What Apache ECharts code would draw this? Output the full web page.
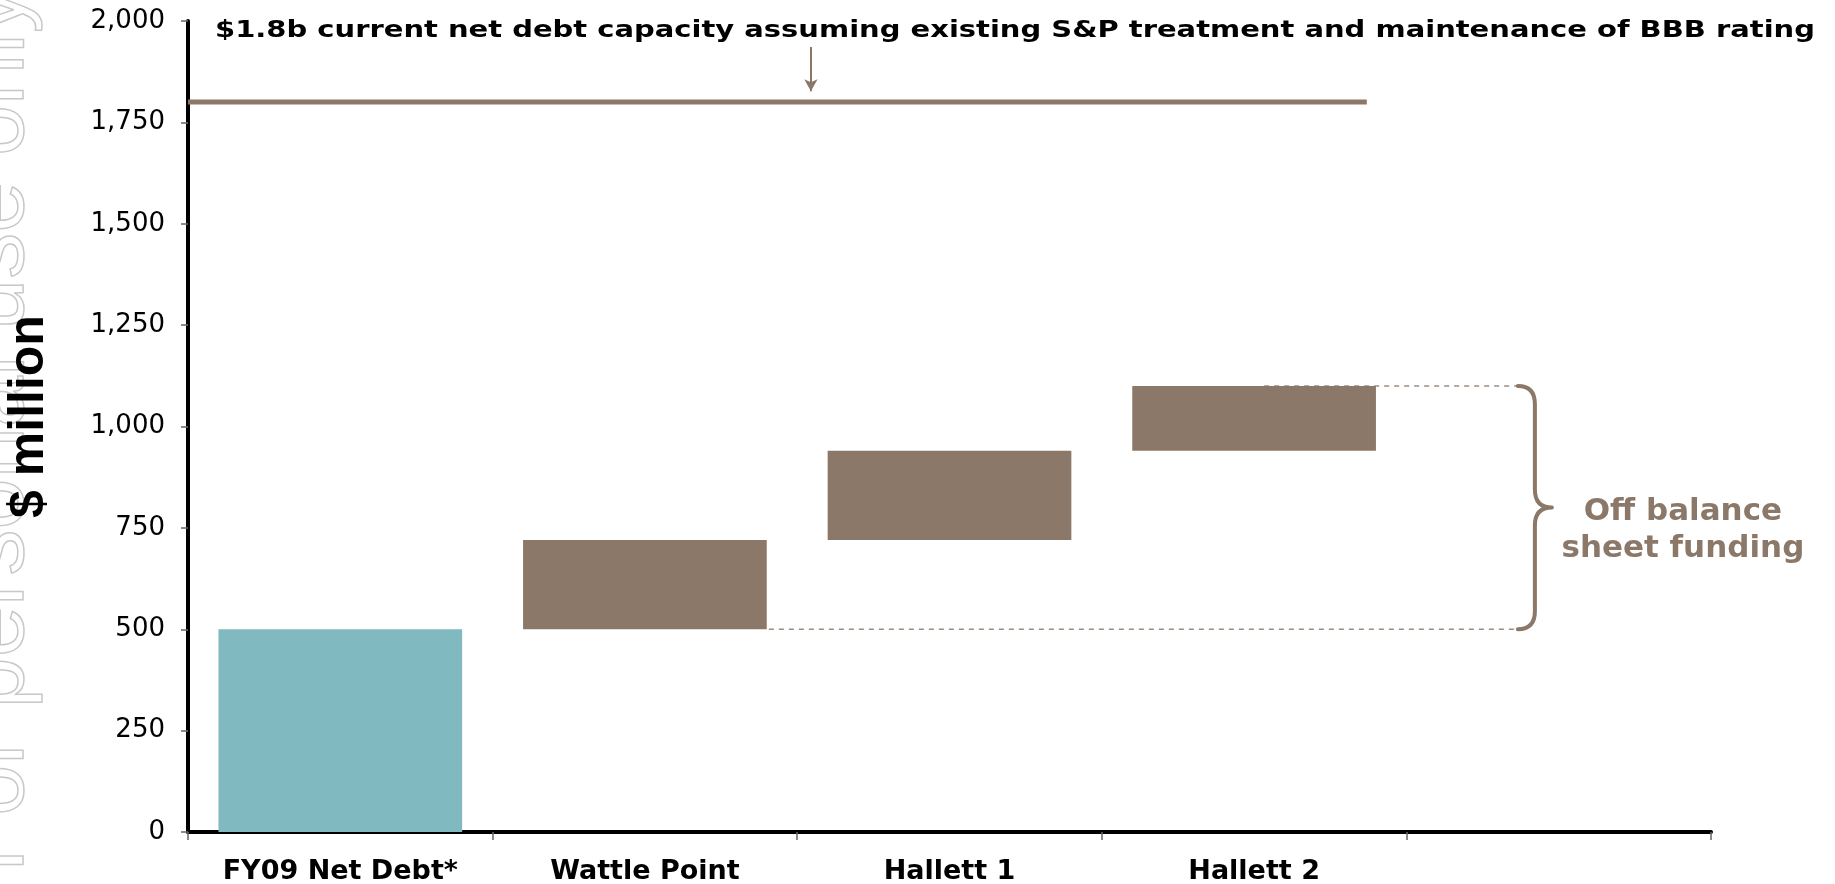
<!DOCTYPE html>
<html>
<head>
<meta charset="utf-8">
<title>Net debt capacity</title>
<script src="https://cdn.jsdelivr.net/npm/echarts@6/dist/echarts.min.js"></script>
<style>
  html, body { margin: 0; padding: 0; background: #fff; }
  #chart { width: 1835px; height: 884px; }
</style>
</head>
<body>
<div id="chart"></div>
<script>
// Waterfall categories (last slot is left empty for the bracket annotation)
const categories = ['FY09 Net Debt*', 'Wattle Point', 'Hallett 1', 'Hallett 2', ''];
// Step sizes, $ million: opening net debt followed by each project's funding
const stepValues = [500, 220, 220, 160];
// Net debt capacity line, $ million
const debtCapacity = 1800;
// Axis range
const yMin = 0, yMax = 2000, yStep = 250;

const BROWN = '#8B7868';
const TEAL = '#81B9C1';

// Invisible base for each floating bar = running total before the step
const bases = [];
let running = 0;
stepValues.forEach((v, i) => { bases.push(i === 0 ? 0 : running); running += v; });
const totalAfterProjects = running;      // top of the last bar
const openingDebt = stepValues[0];       // bottom of the off-balance range

// Helper x scale (0..number of slots) for annotations drawn across slots
const slots = categories.length;
const barFrac = 0.8;
const rightEdge = i => i + 0.5 + barFrac / 2;   // right edge of bar i on the helper scale

const chart = echarts.init(document.getElementById('chart'), null, { renderer: 'canvas' });

const braceX = 4.366;
const fmt = v => v.toLocaleString('en-US');

chart.setOption({
  animation: false,
  backgroundColor: '#ffffff',
  grid: { left: 188, right: 124, top: 21, bottom: 52, containLabel: false, outerBoundsMode: 'none' },
  xAxis: [
    {
      type: 'category',
      data: categories,
      boundaryGap: true,
      axisLine: { lineStyle: { color: '#000', width: 4 } },
      axisTick: { show: true, interval: 0, length: 8, lineStyle: { color: '#666', width: 1.5 } },
      axisLabel: {
        interval: 0, margin: 26, color: '#000',
        fontFamily: 'DejaVu Sans', fontWeight: 'bold', fontSize: 27
      },
      splitLine: { show: false }
    },
    { type: 'value', min: 0, max: slots, show: false }
  ],
  yAxis: {
    type: 'value',
    min: yMin, max: yMax, interval: yStep,
    name: '$ million',
    nameLocation: 'middle',
    nameRotate: 90,
    nameGap: 134,
    nameTextStyle: {
      fontFamily: 'Liberation Sans', fontWeight: 'bold', fontSize: 50, color: '#000',
      padding: [0, 0, 0, 20]
    },
    axisLine: { show: true, lineStyle: { color: '#000', width: 4 } },
    axisTick: { show: true, length: 7, lineStyle: { color: '#666', width: 1.5 } },
    axisLabel: {
      margin: 23, color: '#000', fontFamily: 'DejaVu Sans', fontSize: 26,
      formatter: v => fmt(v)
    },
    splitLine: { show: false }
  },
  graphic: [
    // Headline above the capacity line (wide set, as on the slide)
    {
      type: 'text',
      x: 215, y: 31,
      scaleX: 1.26,
      silent: true,
      style: {
        text: '$1.8b current net debt capacity assuming existing S&P treatment and maintenance of BBB rating',
        fontFamily: 'DejaVu Sans', fontWeight: 'bold', fontSize: 23, fill: '#000',
        align: 'left', verticalAlign: 'middle'
      }
    },
    // Faint outlined watermark running up the left edge
    {
      type: 'text',
      x: 44, y: 872,
      rotation: Math.PI / 2,
      silent: true,
      z: -10,
      style: {
        text: 'For personal use only',
        fontFamily: 'Liberation Sans', fontSize: 92,
        fill: 'rgba(0,0,0,0)', stroke: '#c8c8c8', lineWidth: 1.5,
        align: 'left', verticalAlign: 'bottom'
      }
    }
  ],
  series: [
    {
      name: 'base', type: 'bar', stack: 'w', barWidth: (barFrac * 100) + '%',
      itemStyle: { color: 'rgba(0,0,0,0)' },
      silent: true,
      data: bases
    },
    {
      name: 'step', type: 'bar', stack: 'w', barWidth: (barFrac * 100) + '%',
      data: stepValues.map((v, i) => ({ value: v, itemStyle: { color: i === 0 ? TEAL : BROWN } }))
    },
    // Current net debt capacity line
    {
      type: 'line', xAxisIndex: 1, symbol: 'none', silent: true, z: 5,
      lineStyle: { color: BROWN, width: 5 },
      data: [[0, debtCapacity], [3.87, debtCapacity]],
      markLine: {
        silent: true, symbol: ['none', 'arrow'], symbolSize: [10, 12],
        label: { show: false },
        lineStyle: { color: BROWN, width: 2, type: 'solid' },
        data: [[{ coord: [2.045, 1936] }, { coord: [2.045, debtCapacity + 27] }]]
      }
    },
    // Dashed guides to the bracket
    {
      type: 'line', xAxisIndex: 1, symbol: 'none', silent: true, z: 4,
      lineStyle: { color: BROWN, width: 1.5, type: [5, 5], opacity: 0.85 },
      data: [[rightEdge(1) + 0.007, openingDebt], [braceX, openingDebt]]
    },
    {
      type: 'line', xAxisIndex: 1, symbol: 'none', silent: true, z: 4,
      lineStyle: { color: BROWN, width: 1.5, type: [5, 5], opacity: 0.85 },
      data: [[3.533, totalAfterProjects], [braceX, totalAfterProjects]]
    },
    // Curly bracket with its label
    {
      type: 'custom', xAxisIndex: 1, silent: true, z: 6,
      data: [[braceX, totalAfterProjects, openingDebt]],
      renderItem: (params, api) => {
        const top = api.coord([api.value(0), api.value(1)]);
        const bot = api.coord([api.value(0), api.value(2)]);
        const x0 = top[0], yT = top[1], yB = bot[1], yM = (yT + yB) / 2;
        const xv = x0 + 17, xt = x0 + 34, r = 18;
        const d = [
          'M', x0, yT,
          'Q', xv, yT, xv, yT + r,
          'L', xv, yM - r,
          'Q', xv, yM, xt, yM,
          'Q', xv, yM, xv, yM + r,
          'L', xv, yB - r,
          'Q', xv, yB, x0, yB
        ].join(' ');
        return {
          type: 'group',
          children: [
            {
              type: 'path',
              shape: { pathData: d },
              style: { fill: 'none', stroke: BROWN, lineWidth: 4, lineCap: 'round', lineJoin: 'round' }
            },
            {
              type: 'text',
              x: xt + 131, y: yM + 23,
              style: {
                text: 'Off balance\nsheet funding',
                fill: BROWN, fontFamily: 'DejaVu Sans', fontWeight: 'bold', fontSize: 31,
                lineHeight: 37, align: 'center', verticalAlign: 'middle'
              }
            }
          ]
        };
      }
    }
  ]
});
</script>
</body>
</html>
